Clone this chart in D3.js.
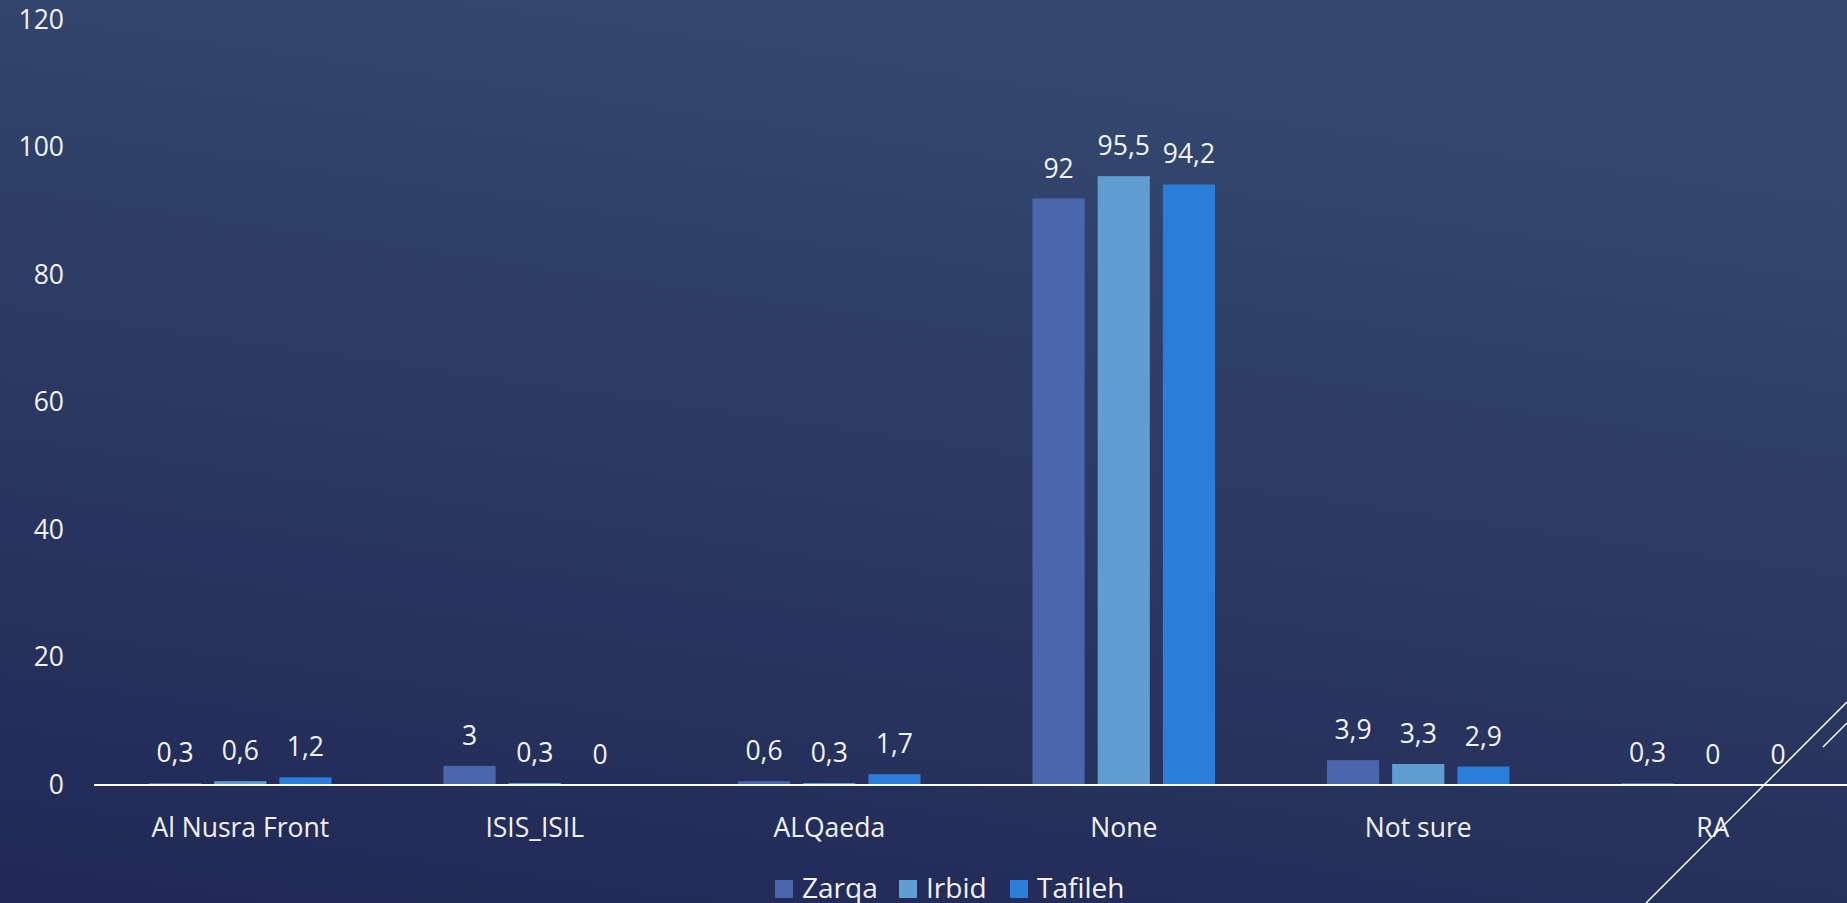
<!DOCTYPE html>
<html>
<head>
<meta charset="utf-8">
<script src="https://cdn.jsdelivr.net/npm/d3@7"></script>
<style>
  html, body { margin: 0; padding: 0; background: #27315c; overflow: hidden; }
  svg { display: block; }
  text { font-family: "Open Sans", "Noto Sans", sans-serif; fill: #f2f3f8; font-weight: 400; }
</style>
</head>
<body>
<svg id="chart" width="1847" height="903"></svg>
<script>
const categories = ["Al Nusra Front", "ISIS_ISIL", "ALQaeda", "None", "Not sure", "RA"];
const seriesNames = ["Zarqa", "Irbid", "Tafileh"];
const zarqa   = [0.3, 3, 0.6, 92, 3.9, 0.3];
const irbid   = [0.6, 0.3, 0.3, 95.5, 3.3, 0];
const tafileh = [1.2, 0, 1.7, 94.2, 2.9, 0];
const yTicks  = [0, 20, 40, 60, 80, 100, 120];
const colors  = ["#4a66ae", "#5f9dd3", "#2a7ed9"];

const seriesValues = [zarqa, irbid, tafileh];
const W = 1847, H = 903;
const FONT = '"Open Sans", "Noto Sans", sans-serif';
const svg = d3.select("#chart");

// background gradient
const defs = svg.append("defs");
const grad = defs.append("linearGradient").attr("id", "bg")
  .attr("x1", "0.3").attr("y1", "0").attr("x2", "0").attr("y2", "1");
grad.append("stop").attr("offset", "0").attr("stop-color", "#33476e");
grad.append("stop").attr("offset", "1").attr("stop-color", "#212855");
svg.append("rect").attr("width", W).attr("height", H).attr("fill", "url(#bg)");

const x0 = d3.scaleBand().domain(categories).range([93, 1860]).paddingInner(0.38).paddingOuter(0.19);
const x1 = d3.scaleBand().domain(seriesNames).range([0, x0.bandwidth()]).paddingInner(0.2);
const y = d3.scaleLinear().domain([0, 120]).range([785, 20]);

// y axis labels
const yAxis = d3.axisLeft(y).tickValues(yTicks).tickSize(0).tickPadding(0).tickFormat(d3.format("d"));
const yg = svg.append("g").attr("transform", "translate(64,0)").call(yAxis);
yg.select(".domain").remove();
yg.selectAll("text").attr("font-size", 26.5).attr("fill", "#f2f3f8")
  .style("font-family", FONT).style("font-weight", 400);

const fmt = v => String(v).replace(".", ",");

// bars
const groups = svg.append("g").selectAll("g").data(categories).join("g")
  .attr("transform", d => `translate(${x0(d)},0)`);

groups.each(function(cat, ci) {
  const g = d3.select(this);
  seriesNames.forEach((s, si) => {
    const v = seriesValues[si][ci];
    g.append("rect")
      .attr("x", x1(s)).attr("width", x1.bandwidth())
      .attr("y", y(v)).attr("height", y(0) - y(v))
      .attr("fill", colors[si]);
    g.append("text")
      .attr("x", x1(s) + x1.bandwidth() / 2)
      .attr("y", y(v) - 21)
      .attr("text-anchor", "middle")
      .attr("font-size", 26.5)
      .text(fmt(v));
  });
});

// x axis
const xAxis = d3.axisBottom(x0).tickSize(0).tickPadding(0);
const xg = svg.append("g").attr("transform", `translate(0,${y(0)})`).call(xAxis);
xg.select(".domain").remove();
xg.selectAll("text").attr("font-size", 26.5).attr("dy", 0).attr("y", 52).attr("fill", "#f2f3f8")
  .style("font-family", FONT).style("font-weight", 400);
svg.append("line").attr("x1", 94).attr("x2", W).attr("y1", y(0)).attr("y2", y(0))
  .attr("stroke", "#ffffff").attr("stroke-width", 2);

// legend
const legendX = [775, 899, 1010];
const lg = svg.append("g");
seriesNames.forEach((s, i) => {
  lg.append("rect").attr("x", legendX[i]).attr("y", 880).attr("width", 18).attr("height", 18).attr("fill", colors[i]);
  lg.append("text").attr("x", legendX[i] + 27).attr("y", 898).attr("font-size", 28).text(s);
});

// decorative lines
svg.append("line").attr("x1", 1646).attr("y1", 903).attr("x2", 1847).attr("y2", 702)
  .attr("stroke", "#ffffff").attr("stroke-width", 1.5);
svg.append("line").attr("x1", 1823).attr("y1", 747).attr("x2", 1847).attr("y2", 723)
  .attr("stroke", "#ffffff").attr("stroke-width", 1.5);
</script>
</body>
</html>
